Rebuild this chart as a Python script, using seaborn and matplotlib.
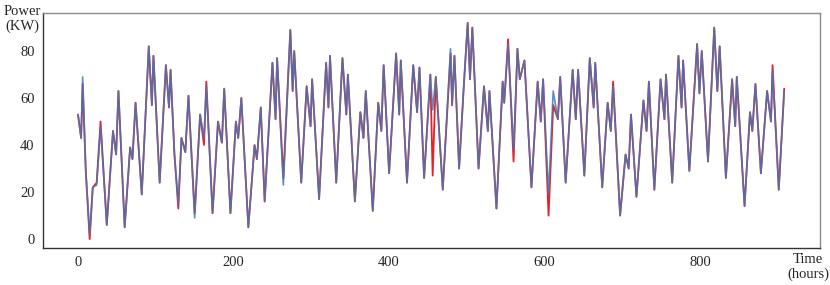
import matplotlib
matplotlib.use("Agg")
import matplotlib.pyplot as plt
import pandas as pd
import seaborn as sns

# pontos (picos, vales e ombros de cada ciclo)
horas = [0, 4, 6, 10, 15, 19, 24, 29, 37, 45, 49, 52, 60, 67, 70, 74, 82, 91, 95, 97,
         105, 113, 117, 119, 124, 129, 133, 138, 142, 150, 157, 162, 165, 173, 180, 185, 188, 196, 203, 206,
         210, 219, 227, 230, 235, 240, 250, 254, 256, 264, 273, 276, 278, 287, 294, 299, 301, 310, 319, 322,
         324, 332, 340, 345, 347, 356, 363, 367, 370, 379, 386, 390, 393, 400, 409, 413, 415, 423, 431, 436,
         439, 445, 453, 456, 460, 469, 479, 481, 484, 490, 496, 501, 504, 507, 515, 522, 527, 529, 538, 546,
         548, 553, 560, 565, 568, 574, 583, 591, 595, 598, 605, 611, 617, 620, 627, 636, 640, 643, 651, 658,
         663, 665, 674, 681, 685, 688, 697, 704, 708, 711, 718, 727, 731, 734, 741, 749, 754, 756, 764, 772,
         776, 778, 786, 796, 799, 802, 810, 818, 822, 825, 833, 841, 845, 847, 857, 864, 867, 871, 878, 886,
         891, 893, 901, 908]

previsto = [53, 43, 69, 29, 2, 22, 23, 48, 6, 46, 36, 63, 5, 39, 34, 58, 19, 82, 57, 78,
            24, 74, 56, 72, 36, 15, 43, 37, 61, 9, 53, 43, 65, 11, 50, 41, 64, 11, 50, 43,
            60, 5, 40, 34, 56, 16, 75, 51, 77, 23, 89, 63, 80, 24, 65, 48, 68, 17, 75, 56,
            78, 24, 77, 53, 70, 16, 54, 43, 63, 12, 58, 46, 74, 28, 79, 53, 76, 24, 74, 54,
            73, 26, 70, 55, 69, 21, 81, 57, 78, 30, 65, 92, 68, 90, 30, 65, 46, 63, 13, 67,
            58, 83, 38, 81, 68, 76, 22, 67, 50, 68, 19, 63, 51, 69, 24, 72, 51, 72, 27, 77,
            56, 75, 22, 58, 46, 65, 10, 36, 30, 53, 18, 59, 46, 67, 21, 68, 51, 70, 24, 78,
            56, 76, 29, 83, 62, 80, 33, 90, 63, 82, 26, 68, 48, 69, 14, 54, 46, 66, 28, 63,
            50, 72, 21, 63]

# série real: igual à prevista, exceto onde o vermelho aparece
real = list(previsto)
ajustes = {6: 66, 15: 0, 24: 24, 29: 50, 129: 13, 150: 11, 162: 40, 165: 67, 264: 26,
           456: 27, 479: 79, 553: 85, 560: 33, 605: 10, 611: 57, 688: 67, 893: 74, 908: 64}
for h, v in ajustes.items():
    real[horas.index(h)] = v

df = pd.DataFrame({'hora': horas, 'real': real, 'previsto': previsto})

sns.set_style("white")
plt.rcParams['font.family'] = ['Liberation Serif', 'DejaVu Serif']

fig = plt.figure(figsize=(8.3, 2.85), dpi=100)
ax = fig.add_axes([43 / 830, 1 - 248 / 285, (820 - 43) / 830, (248 - 13) / 285])

sns.lineplot(data=df, x='hora', y='real', ax=ax, color='#e8202a', linewidth=1.3,
             solid_joinstyle='round')
sns.lineplot(data=df, x='hora', y='previsto', ax=ax, color='#4279b8', linewidth=1.2, alpha=0.85,
             solid_joinstyle='round')

ax.set_xlim(-45, 954)
ax.set_ylim(-3.8, 96.2)
ax.set_xticks([0, 200, 400, 600, 800])
ax.set_yticks([0, 20, 40, 60, 80])
ax.tick_params(length=0, labelsize=10.5, pad=6)
ax.set_xlabel('')
ax.set_ylabel('')
for lado in ['top', 'right']:
    ax.spines[lado].set_color('#8a8a8a')
for lado in ['left', 'bottom']:
    ax.spines[lado].set_color('#333333')
for s in ax.spines.values():
    s.set_linewidth(1.0)

fig.text(22 / 830, 1 - 19 / 285, 'Power\n(KW)', ha='center', va='center', fontsize=10.5, linespacing=1.1)
fig.text(808 / 830, 1 - 267 / 285, 'Time\n(hours)', ha='center', va='center', fontsize=10.5, linespacing=1.1)

fig.savefig('out.png', dpi=100)
